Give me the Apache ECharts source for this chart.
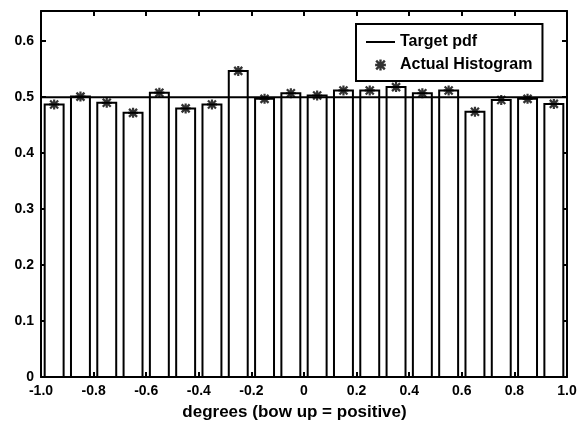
<!DOCTYPE html>
<html>
<head>
<meta charset="utf-8">
<script src="https://cdn.jsdelivr.net/npm/echarts@6/dist/echarts.min.js"></script>
<style>
  html, body { margin: 0; padding: 0; background: #fff; }
  #chart { width: 581px; height: 426px; }
</style>
</head>
<body>
<div id="chart"></div>
<script>
// bin centres and heights of the histogram
const binCenters = [-0.95, -0.85, -0.75, -0.65, -0.55, -0.45, -0.35, -0.25, -0.15, -0.05,
                    0.05, 0.15, 0.25, 0.35, 0.45, 0.55, 0.65, 0.75, 0.85, 0.95]
const histValues = [0.487, 0.501, 0.490, 0.472, 0.508, 0.480, 0.487, 0.547, 0.497, 0.507,
                    0.503, 0.512, 0.512, 0.518, 0.507, 0.512, 0.474, 0.495, 0.497, 0.488]
const targetPdf = 0.5
const xTickLabels = ['-1.0', '-0.8', '-0.6', '-0.4', '-0.2', '0', '0.2', '0.4', '0.6', '0.8', '1.0']
const yTickLabels = ['0', '0.1', '0.2', '0.3', '0.4', '0.5', '0.6']

const FONT = 'Liberation Sans, Arial, sans-serif'
const barFrac = 0.072

const star = 'path://M3.9 0L6.1 0L6.1 10L3.9 10Z M0 3.9L10 3.9L10 6.1L0 6.1Z ' +
  'M0.2 1.8L1.8 0.2L9.8 8.2L8.2 9.8Z M8.2 0.2L9.8 1.8L1.8 9.8L0.2 8.2Z'
// legend icons, padded so they keep a sensible size in the 29x14 slot
const starIcon = star + ' M-1.5 -1.5L-1.5 -1.5Z M11.5 11.5L11.5 11.5Z'
const lineIcon = 'path://M0 6L29 6L29 8L0 8Z M0 0L0 0Z M0 14L0 14Z'

const chart = echarts.init(document.getElementById('chart'))

const histData = binCenters.map((x, i) => [x, histValues[i]])

const frameAxis = {
  axisLine: { onZero: false, lineStyle: { color: '#000', width: 2 } },
  axisTick: { inside: true, length: 5, lineStyle: { color: '#000', width: 2 } },
  splitLine: { show: false }
}

chart.setOption({
  animation: false,
  grid: { left: 41, right: 14, top: 11, bottom: 49 },
  legend: {
    orient: 'vertical',
    left: 356,
    top: 24,
    padding: [10, 10, 8, 10],
    itemWidth: 29,
    itemHeight: 14,
    itemGap: 7,
    borderColor: '#000',
    borderWidth: 2,
    backgroundColor: '#fff',
    textStyle: { fontFamily: FONT, fontWeight: 'bold', fontSize: 16, color: '#000' },
    data: [
      { name: 'Target pdf', icon: lineIcon },
      { name: 'Actual Histogram', icon: starIcon }
    ]
  },
  xAxis: [
    Object.assign({
      type: 'value', min: -1, max: 1, interval: 0.2, position: 'bottom',
      name: 'degrees (bow up = positive)',
      nameLocation: 'middle',
      nameGap: 27,
      nameTextStyle: { fontFamily: FONT, fontWeight: 'bold', fontSize: 17, color: '#000', padding: [0, 19, 0, 0] },
      axisLabel: {
        margin: 7,
        fontFamily: FONT, fontWeight: 'bold', fontSize: 14, color: '#000',
        formatter: (v, i) => xTickLabels[i]
      }
    }, frameAxis),
    Object.assign({
      type: 'value', min: -1, max: 1, interval: 0.2, position: 'top',
      axisLabel: { show: false }
    }, frameAxis)
  ],
  yAxis: [
    Object.assign({
      type: 'value', min: 0, max: 0.654, interval: 0.1, position: 'left',
      axisLabel: {
        margin: 7,
        fontFamily: FONT, fontWeight: 'bold', fontSize: 14, color: '#000',
        formatter: (v, i) => (i < yTickLabels.length ? yTickLabels[i] : '')
      }
    }, frameAxis),
    Object.assign({
      type: 'value', min: 0, max: 0.654, interval: 0.1, position: 'right',
      axisLabel: { show: false }
    }, frameAxis)
  ],
  series: [
    {
      name: 'bars',
      type: 'custom',
      z: 2,
      data: histData,
      renderItem(params, api) {
        const x = api.value(0)
        const y = api.value(1)
        const p0 = api.coord([x - barFrac / 2, y])
        const p1 = api.coord([x + barFrac / 2, 0])
        return {
          type: 'rect',
          shape: { x: p0[0], y: p0[1], width: p1[0] - p0[0], height: p1[1] - p0[1] },
          style: { fill: '#fff', stroke: '#000', lineWidth: 2 }
        }
      }
    },
    {
      name: 'Target pdf',
      type: 'line',
      z: 3,
      symbol: 'none',
      data: [[-1, targetPdf], [1, targetPdf]],
      lineStyle: { color: '#000', width: 2 },
      itemStyle: { color: '#000' }
    },
    {
      name: 'Actual Histogram',
      type: 'scatter',
      z: 4,
      symbol: star,
      symbolSize: 10,
      data: histData,
      itemStyle: { color: '#000' }
    }
  ]
})
</script>
</body>
</html>
